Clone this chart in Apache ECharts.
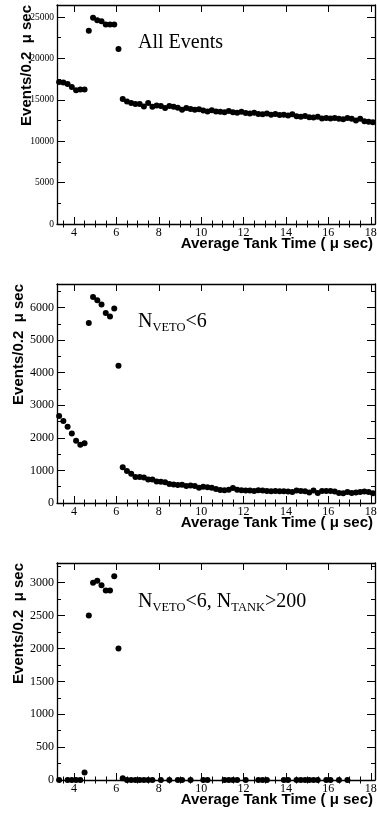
<!DOCTYPE html>
<html>
<head>
<meta charset="utf-8">
<script src="https://cdn.jsdelivr.net/npm/echarts@6/dist/echarts.min.js"></script>
<style>
  html, body { margin: 0; padding: 0; background: #fff; }
  #chart { width: 377px; height: 817px; }
</style>
</head>
<body>
<div id="chart"></div>
<script>
// bin centres (0.2 usec bins)
const binCenters = [
  3.3, 3.5, 3.7, 3.9, 4.1, 4.3, 4.5, 4.7, 4.9, 5.1,
  5.3, 5.5, 5.7, 5.9, 6.1, 6.3, 6.5, 6.7, 6.9, 7.1,
  7.3, 7.5, 7.7, 7.9, 8.1, 8.3, 8.5, 8.7, 8.9, 9.1,
  9.3, 9.5, 9.7, 9.9, 10.1, 10.3, 10.5, 10.7, 10.9, 11.1,
  11.3, 11.5, 11.7, 11.9, 12.1, 12.3, 12.5, 12.7, 12.9, 13.1,
  13.3, 13.5, 13.7, 13.9, 14.1, 14.3, 14.5, 14.7, 14.9, 15.1,
  15.3, 15.5, 15.7, 15.9, 16.1, 16.3, 16.5, 16.7, 16.9, 17.1,
  17.3, 17.5, 17.7, 17.9, 18.1
];

// All Events
const allEvents = [
  17150, 17100, 16900, 16550, 16150, 16250, 16250, 23350, 24900, 24600,
  24500, 24100, 24100, 24100, 21150, 15100, 14800, 14600, 14500, 14500,
  14200, 14600, 14150, 14300, 14250, 14000, 14250, 14150, 14050, 13800,
  14000, 13900, 13800, 13850, 13700, 13600, 13750, 13600, 13550, 13500,
  13650, 13500, 13450, 13550, 13400, 13350, 13450, 13300, 13250, 13350,
  13200, 13300, 13150, 13200, 13100, 13250, 13000, 12950, 13050, 12900,
  12850, 12950, 12750, 12800, 12750, 12800, 12700, 12650, 12800, 12700,
  12500, 12700, 12400, 12350, 12300
];

// N_VETO < 6
const vetoCut = [
  2670, 2520, 2340, 2130, 1910, 1790, 1830, 5520, 6320, 6220,
  6090, 5830, 5720, 5970, 4210, 1100, 980, 900, 800, 800,
  780, 720, 720, 660, 650, 640, 580, 570, 550, 560,
  520, 540, 520, 470, 500, 480, 470, 430, 400, 390,
  410, 460, 410, 390, 380, 380, 370, 390, 380, 370,
  360, 370, 360, 360, 350, 340, 380, 370, 360, 320,
  380, 310, 370, 370, 370, 350, 310, 300, 340, 310,
  320, 340, 350, 340, 300
];

// N_VETO < 6, N_TANK > 200 (null = empty bin, not drawn)
const vetoTankCut = [
  0, null, 0, 0, 0, 0, 115, 2500, 3000, 3030,
  2960, 2880, 2880, 3100, 2000, 25, 0, 0, 0, 0,
  0, 0, 0, null, 0, null, 0, null, 0, 0,
  null, 0, null, null, 0, 0, null, null, null, 0,
  0, 0, 0, null, 0, null, null, 0, 0, 0,
  null, null, null, 0, 0, null, 0, 0, 0, 0,
  0, 0, null, 0, 0, null, 0, null, 0, null,
  null, null, null, null, null
];

const xMajor = [4, 6, 8, 10, 12, 14, 16, 18];
const xMinor = [3.5, 4.5, 5, 5.5, 6.5, 7, 7.5, 8.5, 9, 9.5, 10.5, 11, 11.5,
  12.5, 13, 13.5, 14.5, 15, 15.5, 16.5, 17, 17.5];

const y1Major = [0, 5000, 10000, 15000, 20000, 25000];
const y1Minor = [2500, 7500, 12500, 17500, 22500];
const y2Major = [0, 1000, 2000, 3000, 4000, 5000, 6000];
const y2Minor = [500, 1500, 2500, 3500, 4500, 5500, 6500];
const y3Major = [0, 500, 1000, 1500, 2000, 2500, 3000];
const y3Minor = [250, 750, 1250, 1750, 2250, 2750, 3250];

const panels = [
  { top: 5, height: 219, ymax: 26450, major: y1Major, minor: y1Minor, data: allEvents, ylabelSize: 9.5, ytitleX: 27 },
  { top: 284, height: 219, ymax: 6720, major: y2Major, minor: y2Minor, data: vetoCut, ylabelSize: 12, ytitleX: 18.5 },
  { top: 563, height: 217, ymax: 3300, major: y3Major, minor: y3Minor, data: vetoTankCut, ylabelSize: 12, ytitleX: 18.5 }
];

const black = "#000";
const lineStyle = { color: black, width: 1.3 };
const serif = "Liberation Serif";
const sans = "Liberation Sans";

const grids = [];
const xAxes = [];
const yAxes = [];
const series = [];
const graphics = [];

panels.forEach((p, g) => {
  grids.push({ left: 57, width: 318, top: p.top, height: p.height, outerBoundsMode: "none" });

  // x axes: bottom major, bottom minor, top major, top minor
  const xBase = {
    gridIndex: g, type: "value", min: 3.2, max: 18.2,
    splitLine: { show: false }, axisLabel: { show: false }
  };
  xAxes.push({
    ...xBase, position: "bottom",
    axisLine: { show: true, onZero: false, lineStyle: lineStyle },
    axisTick: { show: true, inside: true, length: 7, customValues: xMajor, lineStyle: { color: black, width: 1 } },
    axisLabel: { show: true, customValues: xMajor, margin: 3, color: black, fontFamily: serif, fontSize: 12 }
  });
  xAxes.push({
    ...xBase, position: "bottom", axisLine: { show: false },
    axisTick: { show: true, inside: true, length: 3.5, customValues: xMinor, lineStyle: { color: black, width: 1 } }
  });
  xAxes.push({
    ...xBase, position: "top",
    axisLine: { show: true, onZero: false, lineStyle: lineStyle },
    axisTick: { show: true, inside: true, length: 7, customValues: xMajor, lineStyle: { color: black, width: 1 } }
  });
  xAxes.push({
    ...xBase, position: "top", axisLine: { show: false },
    axisTick: { show: true, inside: true, length: 3.5, customValues: xMinor, lineStyle: { color: black, width: 1 } }
  });

  // y axes: left major, left minor, right major, right minor
  const yBase = {
    gridIndex: g, type: "value", min: 0, max: p.ymax,
    splitLine: { show: false }, axisLabel: { show: false }
  };
  yAxes.push({
    ...yBase, position: "left",
    axisLine: { show: true, onZero: false, lineStyle: lineStyle },
    axisTick: { show: true, inside: true, length: 8, customValues: p.major, lineStyle: { color: black, width: 1 } },
    axisLabel: {
      show: true, customValues: p.major, margin: 3, color: black, fontFamily: serif, fontSize: p.ylabelSize,
      formatter: (v) => String(v)
    }
  });
  yAxes.push({
    ...yBase, position: "left", axisLine: { show: false },
    axisTick: { show: true, inside: true, length: 4, customValues: p.minor, lineStyle: { color: black, width: 1 } }
  });
  yAxes.push({
    ...yBase, position: "right",
    axisLine: { show: true, onZero: false, lineStyle: lineStyle },
    axisTick: { show: true, inside: true, length: 8, customValues: p.major, lineStyle: { color: black, width: 1 } }
  });
  yAxes.push({
    ...yBase, position: "right", axisLine: { show: false },
    axisTick: { show: true, inside: true, length: 4, customValues: p.minor, lineStyle: { color: black, width: 1 } }
  });

  const points = [];
  binCenters.forEach((x, i) => {
    if (p.data[i] !== null) points.push([x, p.data[i]]);
  });
  series.push({
    type: "scatter",
    xAxisIndex: g * 4,
    yAxisIndex: g * 4,
    data: points,
    symbol: "circle",
    symbolSize: 6,
    itemStyle: { color: black, opacity: 1 },
    silent: true
  });

  // axis titles
  graphics.push({
    type: "text", x: p.ytitleX, y: p.top, rotation: Math.PI / 2,
    style: {
      text: "Events/0.2  \u03bc sec", fill: black, font: "bold 15px " + sans,
      align: "right", verticalAlign: "middle"
    }
  });
  graphics.push({
    type: "text", x: 373, y: p.top + p.height + 20,
    style: {
      text: "Average Tank Time ( \u03bc sec)", fill: black, font: "bold 15px " + sans,
      align: "right", verticalAlign: "middle"
    }
  });
});

// panel labels
const labelRich = {
  n: { fontFamily: serif, fontSize: 20, color: black },
  s: { fontFamily: serif, fontSize: 12.5, color: black, padding: [11, 0, 0, 0] }
};
graphics.push({
  type: "text", x: 138, y: 43,
  style: { text: "All Events", fill: black, font: "20px " + serif, align: "left", verticalAlign: "middle" }
});
graphics.push({
  type: "text", x: 138, y: 322,
  style: { text: "{n|N}{s|VETO}{n|<6}", rich: labelRich, align: "left", verticalAlign: "middle" }
});
graphics.push({
  type: "text", x: 138, y: 602,
  style: { text: "{n|N}{s|VETO}{n|<6, N}{s|TANK}{n|>200}", rich: labelRich, align: "left", verticalAlign: "middle" }
});

const myChart = echarts.init(document.querySelector("#chart"));
const option = {
  backgroundColor: "#fff",
  animation: false,
  grid: grids,
  xAxis: xAxes,
  yAxis: yAxes,
  series: series,
  graphic: graphics
};
myChart.setOption(option);
</script>
</body>
</html>
